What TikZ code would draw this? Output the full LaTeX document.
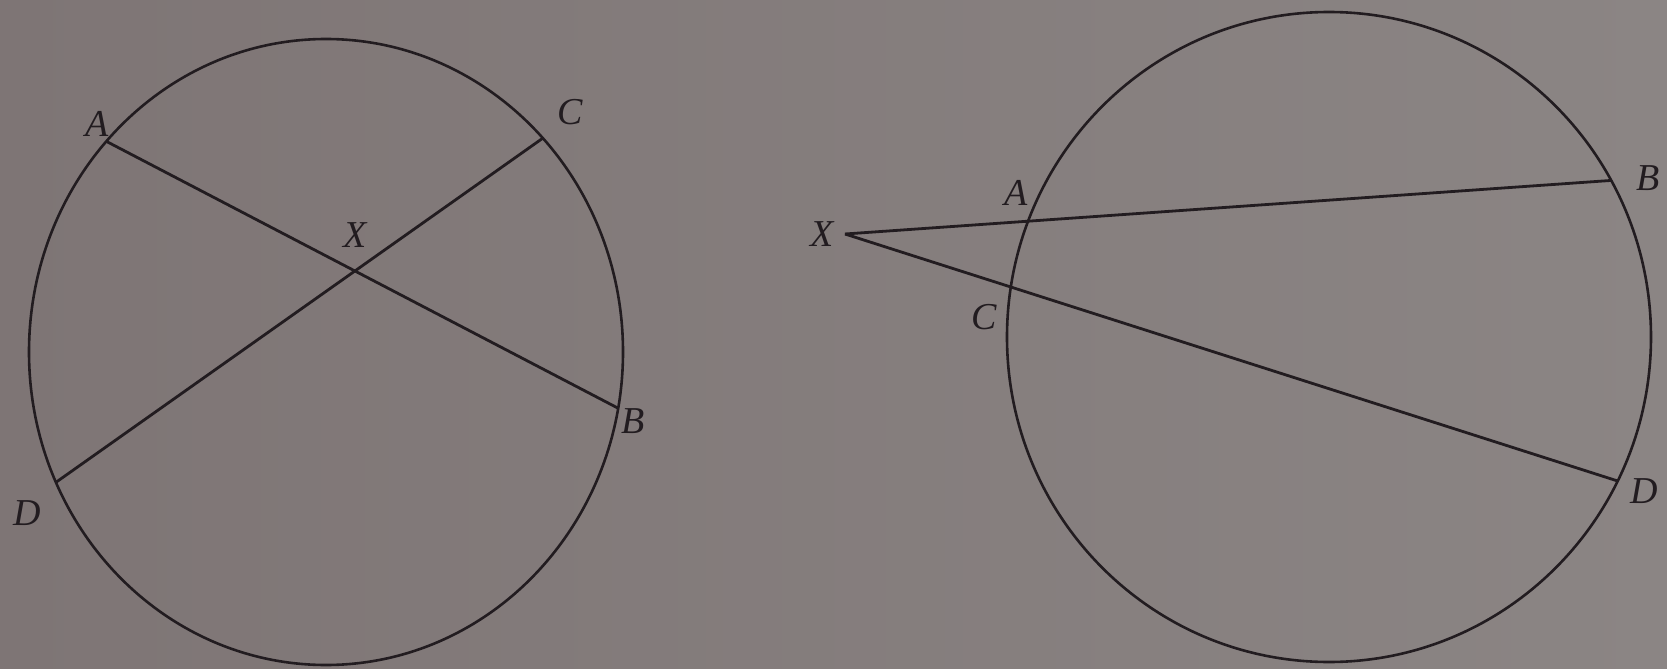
\documentclass[tikz,border=0pt]{standalone}
\usepackage{fontspec}
\setmainfont{Liberation Serif}
\definecolor{paperL}{HTML}{7E7575}
\definecolor{paperR}{HTML}{8B8584}
\definecolor{ink}{HTML}{221C20}
\begin{document}
\begin{tikzpicture}[x=0.5pt,y=-0.5pt,
  curve/.style={draw=ink,line width=1.3pt},
  chord/.style={draw=ink,line width=1.4pt},
  lbl/.style={font=\fontsize{19}{22}\selectfont\itshape,text=ink,inner sep=0pt,anchor=center}]
\shade[left color=paperL,right color=paperR] (0,0) rectangle (1667,669);
\useasboundingbox (0,0) rectangle (1667,669);
% ---- left figure ----
\coordinate (O1) at (326,352);
\path (O1) ++ ({297*cos(222.3)},{313*sin(222.3)}) coordinate (A1);
\path (O1) ++ ({297*cos(10.35)},{313*sin(10.35)}) coordinate (B1);
\path (O1) ++ ({297*cos(-43.1)},{313*sin(-43.1)}) coordinate (C1);
\path (O1) ++ ({297*cos(155.4)},{313*sin(155.4)}) coordinate (D1);
\draw[curve] (O1) ellipse [x radius=297, y radius=313];
\draw[chord] (A1) -- (B1);
\draw[chord] (C1) -- (D1);
\coordinate (X1) at (intersection of A1--B1 and C1--D1);
\node[lbl] (lA1) at (97,124) {A};
\node[lbl] (lC1) at (570,112) {C};
\node[lbl] (lX1) at (355,235) {X};
\node[lbl] (lB1) at (633,421) {B};
\node[lbl] (lD1) at (27,513) {D};
% ---- right figure ----
\coordinate (O2) at (1329,337);
\coordinate (X2) at (845,234);
\path (O2) ++ ({322*cos(-28.8)},{325*sin(-28.8)}) coordinate (B2);
\path (O2) ++ ({322*cos(26.3)},{325*sin(26.3)}) coordinate (D2);
\draw[curve] (O2) ellipse [x radius=322, y radius=325];
\draw[chord] (X2) -- (B2);
\draw[chord] (X2) -- (D2);
\node[lbl] (lX2) at (822,234) {X};
\node[lbl] (lA2) at (1016,193) {A};
\node[lbl] (lB2) at (1648,178) {B};
\node[lbl] (lC2) at (984,317) {C};
\node[lbl] (lD2) at (1644,491) {D};
\end{tikzpicture}
\end{document}
